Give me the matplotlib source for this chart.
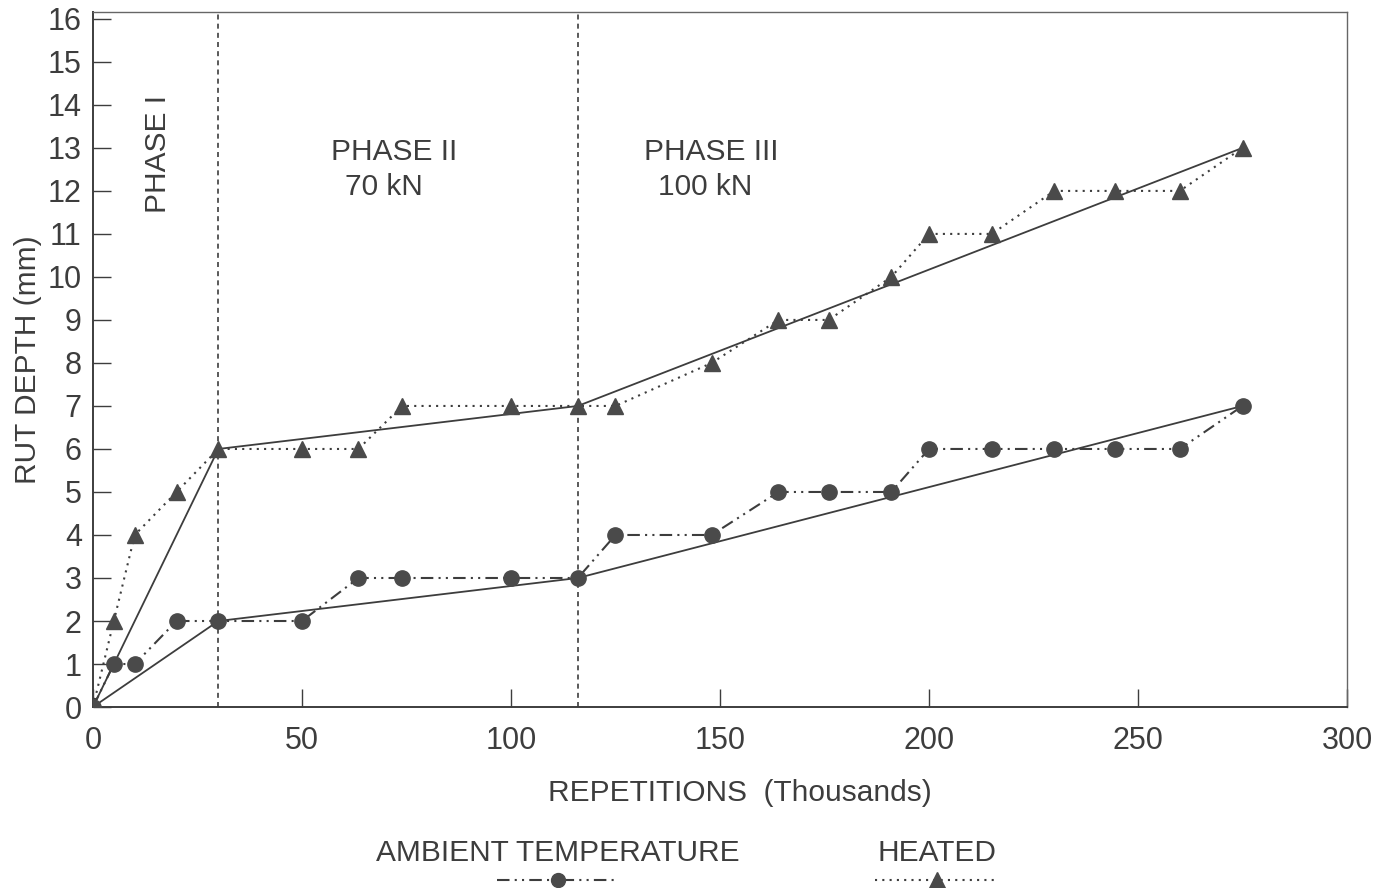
import matplotlib
matplotlib.use("Agg")
import matplotlib.pyplot as plt
from matplotlib.lines import Line2D

plt.rcParams['font.family'] = ['Liberation Sans', 'DejaVu Sans']

# Load repetitions (thousands) at each rut survey
repetitions = [0, 5, 10, 20, 30, 50, 63.5, 74, 100, 116, 125,
               148, 164, 176, 191, 200, 215, 230, 244.5, 260, 275]
# Rut depth (mm) measured at each survey
ambient = [0, 1, 1, 2, 2, 2, 3, 3, 3, 3, 4, 4, 5, 5, 5, 6, 6, 6, 6, 6, 7]
heated = [0, 2, 4, 5, 6, 6, 6, 7, 7, 7, 7, 8, 9, 9, 10, 11, 11, 12, 12, 12, 13]

# Piecewise trend lines through the phase boundaries
trend_x = [0, 30, 116, 275]
ambient_trend = [0, 2, 3, 7]
heated_trend = [0, 6, 7, 13]

# Phase boundaries (thousand repetitions)
phase_bounds = [30, 116]

x_ticks = [0, 50, 100, 150, 200, 250, 300]
y_ticks = list(range(0, 17))

ink = '#3d3d3d'
mark = '#4a4a4a'
fs = 21.5

fig = plt.figure(figsize=(13.79, 8.88), dpi=100)
ax = fig.add_axes([0.0674, 0.2038, 0.9094, 0.7827])

for xb in phase_bounds:
    ax.axvline(xb, color=ink, lw=1.2, linestyle=(0, (3, 2.5)), zorder=1)

ax.plot(trend_x, heated_trend, color=ink, lw=1.3, zorder=2)
ax.plot(trend_x, ambient_trend, color=ink, lw=1.3, zorder=2)

dashdotdot = (0, (6, 2.5, 1, 2.5, 1, 2.5))
dotted = (0, (1, 2.5))

ax.plot(repetitions, heated, color=ink, lw=1.5, linestyle=dotted,
        marker='^', markersize=12, markerfacecolor=mark,
        markeredgecolor=mark, zorder=3)
ax.plot(repetitions, ambient, color=ink, lw=1.5, linestyle=dashdotdot,
        marker='o', markersize=11, markerfacecolor=mark,
        markeredgecolor=mark, zorder=3)

ax.set_xlim(0, 300)
ax.set_ylim(0, 16.16)
ax.set_xticks(x_ticks)
ax.set_yticks(y_ticks)
ax.tick_params(direction='in', length=13, width=1.0, colors=ink,
               labelsize=22, labelcolor=ink)
ax.tick_params(axis='y', pad=8)
ax.tick_params(axis='x', pad=14)

for side in ['left', 'bottom']:
    ax.spines[side].set_color(ink)
    ax.spines[side].set_linewidth(1.4)
for side in ['top', 'right']:
    ax.spines[side].set_color('#666666')
    ax.spines[side].set_linewidth(1.0)

ax.set_xlabel('REPETITIONS  (Thousands)', fontsize=fs, color=ink, labelpad=16)
ax.xaxis.label.set_x(0.516)
ax.set_ylabel('RUT DEPTH (mm)', fontsize=fs, color=ink, labelpad=4)

# Phase annotations
ax.text(15.5, 12.85, 'PHASE I', rotation=90, ha='center', va='center',
        fontsize=fs, color=ink)
ax.text(72, 12.9, 'PHASE II', ha='center', va='center', fontsize=fs, color=ink)
ax.text(69.5, 12.1, '70 kN', ha='center', va='center', fontsize=fs, color=ink)
ax.text(148, 12.9, 'PHASE III', ha='center', va='center', fontsize=fs, color=ink)
ax.text(146.5, 12.1, '100 kN', ha='center', va='center', fontsize=fs, color=ink)

# Legend: label above a short line sample
fig.text(558 / 1379, 1 - 853 / 888, 'AMBIENT TEMPERATURE', ha='center',
         va='center', fontsize=fs, color=ink)
fig.text(937 / 1379, 1 - 853 / 888, 'HEATED', ha='center',
         va='center', fontsize=fs, color=ink)

ly = 1 - 880 / 888
fig.add_artist(Line2D([497 / 1379, 617 / 1379], [ly, ly], transform=fig.transFigure,
                      color=ink, lw=1.5, linestyle=dashdotdot))
fig.add_artist(Line2D([558 / 1379], [ly], transform=fig.transFigure,
                      marker='o', markersize=10, color=mark, linestyle='none'))
fig.add_artist(Line2D([875 / 1379, 995 / 1379], [ly, ly], transform=fig.transFigure,
                      color=ink, lw=1.5, linestyle=dotted))
fig.add_artist(Line2D([937 / 1379], [ly], transform=fig.transFigure,
                      marker='^', markersize=11, color=mark, linestyle='none'))

fig.savefig('out.png', dpi=100, facecolor='white')
